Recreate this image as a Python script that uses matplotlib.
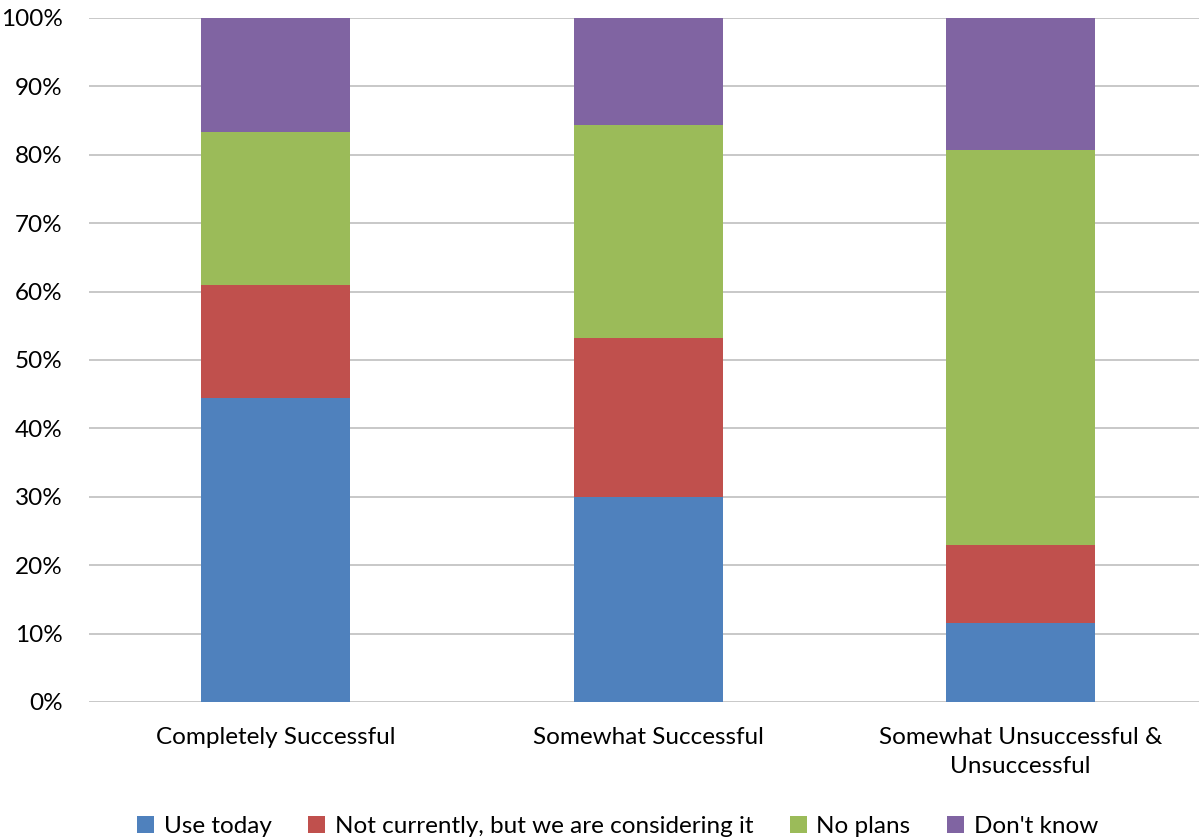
import numpy as np
import matplotlib.pyplot as plt
from matplotlib.ticker import PercentFormatter

plt.rcParams['font.family'] = ['Lato', 'DejaVu Sans']

categories = ['Completely Successful', 'Somewhat Successful', 'Somewhat Unsuccessful &\nUnsuccessful']
series_names = ['Use today', 'Not currently, but we are considering it', 'No plans', "Don't know"]
use_today = [44.4, 30.0, 11.5]
considering = [16.6, 23.2, 11.5]
no_plans = [22.3, 31.2, 57.7]
dont_know = [16.7, 15.6, 19.3]
colors = ['#4F81BD', '#C0504D', '#9BBB59', '#8064A2']

fig = plt.figure(figsize=(11.99, 8.4), dpi=100)
ax = fig.add_axes([89.25 / 1199, 138 / 840, 1117.5 / 1199, 684 / 840])

x = np.arange(len(categories))
bottom = np.zeros(len(categories))
for name, vals, c in zip(series_names, [use_today, considering, no_plans, dont_know], colors):
    ax.bar(x, vals, width=0.4, bottom=bottom, color=c, label=name, zorder=3)
    bottom += np.array(vals)

ax.set_xlim(-0.5, 2.5)
ax.set_ylim(0, 100)
ax.set_yticks(np.arange(0, 101, 10))
ax.yaxis.set_major_formatter(PercentFormatter(decimals=0))
ax.set_xticks(x)
ax.set_xticklabels(categories, linespacing=1.45)
ax.tick_params(axis='y', length=0, pad=19, labelsize=17.5)
ax.tick_params(axis='x', length=0, pad=18, labelsize=17.5)
ax.grid(axis='y', color='#bfbfbf', linewidth=1.2, zorder=0)
for s in ax.spines.values():
    s.set_visible(False)

fig.legend(loc='lower center', ncol=4, bbox_to_anchor=(0.515, -0.022), frameon=False,
           fontsize=17.5, handlelength=0.7, handleheight=0.7, handletextpad=0.4,
           columnspacing=1.5)

fig.savefig('out.png', dpi=100)
